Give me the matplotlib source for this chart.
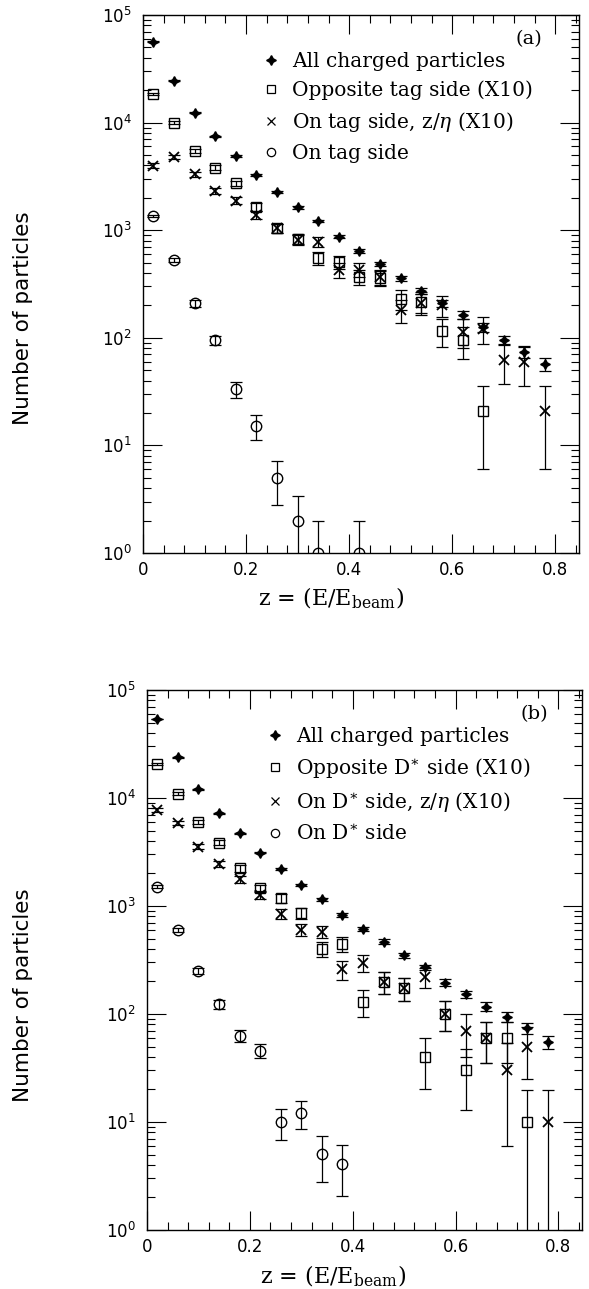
import matplotlib
matplotlib.use("Agg")
import matplotlib.pyplot as plt
from matplotlib.lines import Line2D
from matplotlib.ticker import LogLocator, LogFormatterMathtext, MultipleLocator, FuncFormatter

# === data ===
z_all = [0.02, 0.06, 0.10, 0.14, 0.18, 0.22, 0.26, 0.30, 0.34, 0.38,
         0.42, 0.46, 0.50, 0.54, 0.58, 0.62, 0.66, 0.70, 0.74, 0.78]

# panel (a): tagged events
all_a = [56500, 24500, 12400, 7500, 4900, 3260, 2250, 1630, 1220, 870,
         645, 482, 358, 275, 209, 163, 125, 95, 74, 57]
all_a_err = [240, 157, 111, 87, 70, 57, 47, 40, 35, 29,
             25, 22, 19, 17, 14, 13, 11, 10, 9, 8]

z_opp_a = [0.02, 0.06, 0.10, 0.14, 0.18, 0.22, 0.26, 0.30, 0.34, 0.38,
           0.42, 0.46, 0.50, 0.54, 0.58, 0.62, 0.66]
opp_a = [18300, 10000, 5480, 3810, 2730, 1650, 1040, 834, 548, 510,
         370, 360, 228, 217, 116, 95, 21]
opp_a_err = [430, 316, 234, 195, 165, 128, 102, 91, 74, 71,
             61, 60, 48, 47, 34, 31, 15]

eta_a = [3980, 4760, 3310, 2330, 1880, 1380, 1040, 811, 782, 427,
         430, 370, 181, 210, 202, 114, 122, 62, 60, 21]
eta_a_err = [200, 218, 182, 153, 137, 117, 102, 90, 88, 65,
             66, 61, 43, 46, 45, 34, 35, 25, 24, 15]

z_on_a = [0.02, 0.06, 0.10, 0.14, 0.18, 0.22, 0.26, 0.30, 0.34, 0.42]
on_a = [1355, 528, 209, 95, 33.4, 15.2, 5.0, 2.0, 1.0, 1.0]
on_a_err = [37, 23, 14.5, 9.7, 5.8, 3.9, 2.2, 1.4, 0.999, 0.999]

# panel (b): D* events
all_b = [53900, 23800, 12000, 7200, 4710, 3120, 2190, 1565, 1155, 826,
         612, 468, 352, 271, 195, 152, 117, 94, 74, 55]
all_b_err = [232, 154, 110, 85, 69, 56, 47, 40, 34, 29,
             25, 22, 19, 16, 14, 12, 11, 10, 9, 7.5]

z_opp_b = [0.02, 0.06, 0.10, 0.14, 0.18, 0.22, 0.26, 0.30, 0.34, 0.38,
           0.42, 0.46, 0.50, 0.54, 0.58, 0.62, 0.66, 0.70, 0.74]
opp_b = [20600, 11000, 5960, 3860, 2230, 1460, 1180, 856, 400, 445,
         130, 199, 173, 40, 101, 30, 60, 60, 10]
opp_b_err = [454, 332, 244, 196, 149, 121, 109, 93, 63, 67,
             36, 45, 42, 20, 32, 17, 24.5, 24.5, 9.99]

eta_b = [7740, 5830, 3540, 2450, 1770, 1265, 843, 600, 578, 259,
         299, 199, 173, 222, 101, 70, 60, 30, 50, 10]
eta_b_err = [278, 241, 188, 157, 133, 112, 92, 77, 76, 51,
             55, 45, 42, 47, 32, 30, 24.5, 24, 25, 9.99]

z_on_b = [0.02, 0.06, 0.10, 0.14, 0.18, 0.22, 0.26, 0.30, 0.34, 0.38]
on_b = [1510, 600, 252, 123, 62.6, 45.7, 10, 12.2, 5.1, 4.06]
on_b_err = [39, 24.5, 16, 11, 7.9, 6.8, 3.2, 3.5, 2.3, 2.0]

labels_a = ["All charged particles", "Opposite tag side (X10)",
            r"On tag side, z/$\eta$ (X10)", "On tag side"]
labels_b = ["All charged particles", r"Opposite D$^{\ast}$ side (X10)",
            r"On D$^{\ast}$ side, z/$\eta$ (X10)", r"On D$^{\ast}$ side"]

# === figure setup ===
W, H = 589, 1289
fig = plt.figure(figsize=(W / 100, H / 100), dpi=100)
plt.rcParams['mathtext.fontset'] = 'dejavuserif'

serif = 'DejaVu Serif'
sans = 'DejaVu Sans'
STAR = (4, 1, 0)


def px_axes(l, r, t, b):
    return fig.add_axes([l / W, 1 - b / H, (r - l) / W, (b - t) / H])


def draw_panel(ax, series, labels, tag, tag_x, leg_y):
    eb = dict(fmt='none', ecolor='black', elinewidth=0.9, capsize=4, capthick=0.9)
    (z1, y1, e1), (z2, y2, e2), (z3, y3, e3), (z4, y4, e4) = series
    ax.errorbar(z1, y1, yerr=e1, **eb)
    ax.errorbar(z2, y2, yerr=e2, **eb)
    ax.errorbar(z3, y3, yerr=e3, **eb)
    ax.errorbar(z4, y4, yerr=e4, **eb)
    ax.plot(z1, y1, ls='none', marker=STAR, ms=7, color='black')
    ax.plot(z2, y2, ls='none', marker='s', ms=7, mfc='none', mec='black', mew=1.0)
    ax.plot(z3, y3, ls='none', marker='x', ms=7.5, color='black', mew=1.3)
    ax.plot(z4, y4, ls='none', marker='o', ms=7.5, mfc='none', mec='black', mew=1.0)

    ax.set_yscale('log')
    ax.set_ylim(1, 1e5)
    ax.set_xlim(0, 0.846)
    ax.yaxis.set_major_locator(LogLocator(base=10, numticks=10))
    ax.yaxis.set_minor_locator(LogLocator(base=10, subs=range(2, 10), numticks=20))
    ax.yaxis.set_major_formatter(LogFormatterMathtext())
    ax.xaxis.set_major_locator(MultipleLocator(0.2))
    ax.xaxis.set_minor_locator(MultipleLocator(0.04))
    ax.xaxis.set_major_formatter(FuncFormatter(lambda v, p: '0' if abs(v) < 1e-9 else f'{v:.1f}'))
    ax.tick_params(which='both', direction='in', top=True, right=True, width=0.8)
    ax.tick_params(which='major', length=14, labelsize=12)
    ax.tick_params(axis='x', which='major', pad=6)
    ax.tick_params(axis='y', which='major', pad=8)
    ax.tick_params(which='minor', length=6)
    for s in ax.spines.values():
        s.set_linewidth(1.0)

    handles = [
        Line2D([], [], ls='none', marker=STAR, ms=7, color='black'),
        Line2D([], [], ls='none', marker='s', ms=6, mfc='none', mec='black', mew=0.9),
        Line2D([], [], ls='none', marker='x', ms=6, color='black', mew=0.9),
        Line2D([], [], ls='none', marker='o', ms=6, mfc='none', mec='black', mew=0.9),
    ]
    ax.legend(handles, labels, loc='upper left', bbox_to_anchor=(0.28, leg_y),
              frameon=False, prop={'family': serif, 'size': 14.5},
              handlelength=0.6, handletextpad=0.75, labelspacing=0.5,
              borderaxespad=0, borderpad=0)
    ax.text(tag_x, 0.955, tag, transform=ax.transAxes, ha='right', va='center',
            family=serif, fontsize=14)


ax_a = px_axes(143, 579, 15, 553)
draw_panel(ax_a, [(z_all, all_a, all_a_err), (z_opp_a, opp_a, opp_a_err),
                  (z_all, eta_a, eta_a_err), (z_on_a, on_a, on_a_err)],
           labels_a, '(a)', 0.915, 0.932)

ax_b = px_axes(147, 582, 690, 1230)
draw_panel(ax_b, [(z_all, all_b, all_b_err), (z_opp_b, opp_b, opp_b_err),
                  (z_all, eta_b, eta_b_err), (z_on_b, on_b, on_b_err)],
           labels_b, '(b)', 0.922, 0.931)

# axis titles
xlab = r'z = (E/E$_{\rm beam}$)'
fig.text(331 / W, 1 - 598 / H, xlab, ha='center', va='center', family=serif, fontsize=16)
fig.text(333 / W, 1 - 1276 / H, xlab, ha='center', va='center', family=serif, fontsize=16)
fig.text(23 / W, 1 - 318 / H, 'Number of particles', rotation=90,
         ha='center', va='center', family=sans, fontsize=15.5)
fig.text(23 / W, 1 - 995 / H, 'Number of particles', rotation=90,
         ha='center', va='center', family=sans, fontsize=15.5)

fig.savefig('out.png', dpi=100)
